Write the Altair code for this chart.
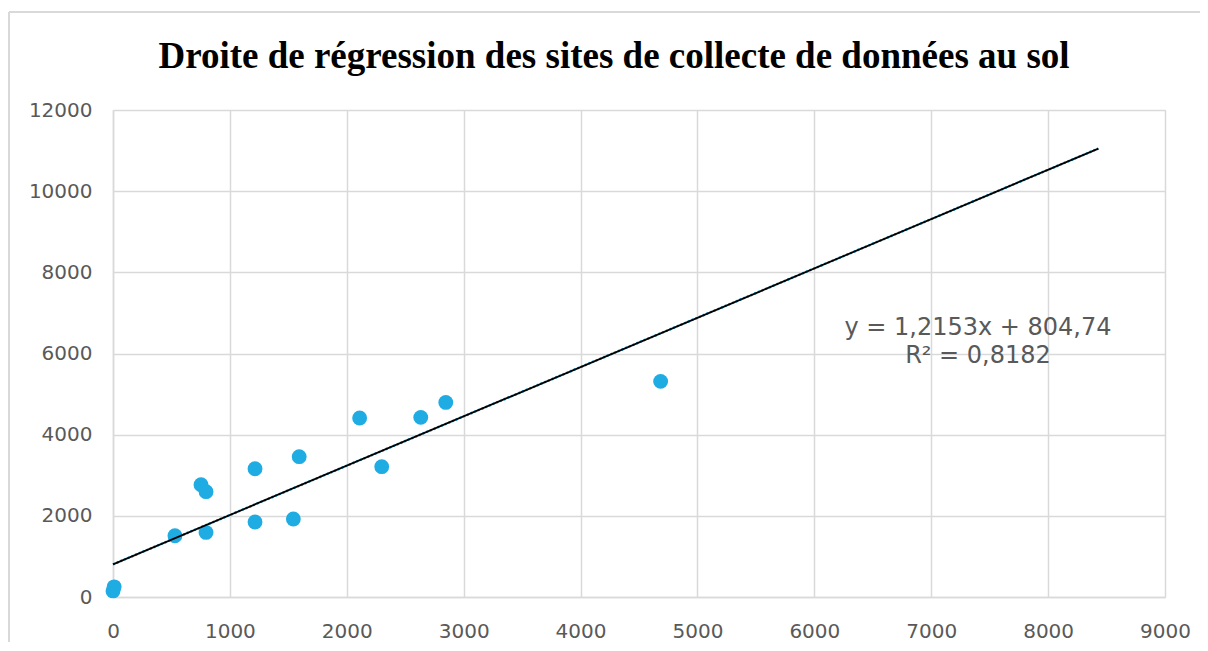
import altair as alt
import pandas as pd

# Data
site_x = [0, 10, 530, 796, 753, 796, 1215, 1215, 1543, 1593, 2110, 2299, 2633, 2847, 4685]
site_y = [150, 250, 1510, 1592, 2767, 2595, 3161, 1848, 1922, 3457, 4411, 3211, 4426, 4795, 5313]

trend_x = [0, 8430]
slope = 1.2153
intercept = 804.74
eq_lines = ["y = 1,2153x + 804,74", "R² = 0,8182"]
eq_pos_x = 7400
eq_pos_y = [6640, 5930]

title_text = ["Droite de régression des sites de collecte de données au sol"]

pts = pd.DataFrame({"x": site_x, "y": site_y})
trend = pd.DataFrame({"x": trend_x})
trend["y"] = [slope * v + intercept for v in trend_x]
eq = pd.DataFrame({"x": [eq_pos_x] * 2, "y": eq_pos_y, "t": eq_lines})
ttl = pd.DataFrame({"t": title_text})

GRID = "#d9d9d9"
TXT = "#595959"
BLUE = "#1eace3"

xs = alt.Scale(domain=[0, 9000], nice=False, zero=True)
ys = alt.Scale(domain=[0, 12000], nice=False, zero=True)

xaxis = alt.Axis(values=list(range(0, 9001, 1000)), title=None, grid=True, format="d",
                 gridColor=GRID, gridWidth=1.5, domainColor=GRID, domainWidth=1.5,
                 ticks=False, labelFont="DejaVu Sans", labelFontSize=20,
                 labelColor=TXT, labelPadding=24, labelFlush=False)
yaxis = alt.Axis(values=list(range(0, 12001, 2000)), title=None, grid=True, format="d",
                 gridColor=GRID, gridWidth=1.5, domainColor=GRID, domainWidth=1.5,
                 ticks=False, labelFont="DejaVu Sans", labelFontSize=20,
                 labelColor=TXT, labelPadding=21)

points = alt.Chart(pts).mark_circle(size=220, opacity=1, color=BLUE).encode(
    x=alt.X("x:Q", scale=xs, axis=xaxis),
    y=alt.Y("y:Q", scale=ys, axis=yaxis),
)

trend_blue = alt.Chart(trend).mark_line(color=BLUE, strokeWidth=2.5, strokeDash=[2, 2]).encode(
    x=alt.X("x:Q", scale=xs), y=alt.Y("y:Q", scale=ys)
)
trend_black = alt.Chart(trend).mark_line(color="black", strokeWidth=1.8).encode(
    x=alt.X("x:Q", scale=xs), y=alt.Y("y:Q", scale=ys)
)

eq_text = alt.Chart(eq).mark_text(font="DejaVu Sans", fontSize=24, color=TXT,
                                  align="center", baseline="middle").encode(
    x=alt.X("x:Q", scale=xs), y=alt.Y("y:Q", scale=ys), text="t:N"
)

# chart title (drawn as text, positioned in the top padding)
title_mark = alt.Chart(ttl).mark_text(font="Liberation Serif", fontSize=37, fontWeight="bold",
                                      color="black", align="center",
                                      baseline="alphabetic").encode(
    x=alt.value(501), y=alt.value(-42), text="t:N"
)

# outer chart frame (decoration)
frame_top = alt.Chart(pts).mark_rule(color=GRID, strokeWidth=2).encode(
    x=alt.value(-104), x2=alt.value(1095), y=alt.value(-98)
)
frame_left = alt.Chart(pts).mark_rule(color=GRID, strokeWidth=2).encode(
    x=alt.value(-104), y=alt.value(-98), y2=alt.value(541)
)

chart = alt.layer(frame_top, frame_left, points, trend_blue, trend_black, eq_text,
                  title_mark).properties(
    width=1052, height=487,
    autosize=alt.AutoSizeParams(type="none"),
    padding={"left": 105, "top": 102, "right": 35, "bottom": 45},
).configure_view(stroke=None).configure(background="white")

chart.save("out.html", embed_options={"renderer": "svg", "actions": False})
